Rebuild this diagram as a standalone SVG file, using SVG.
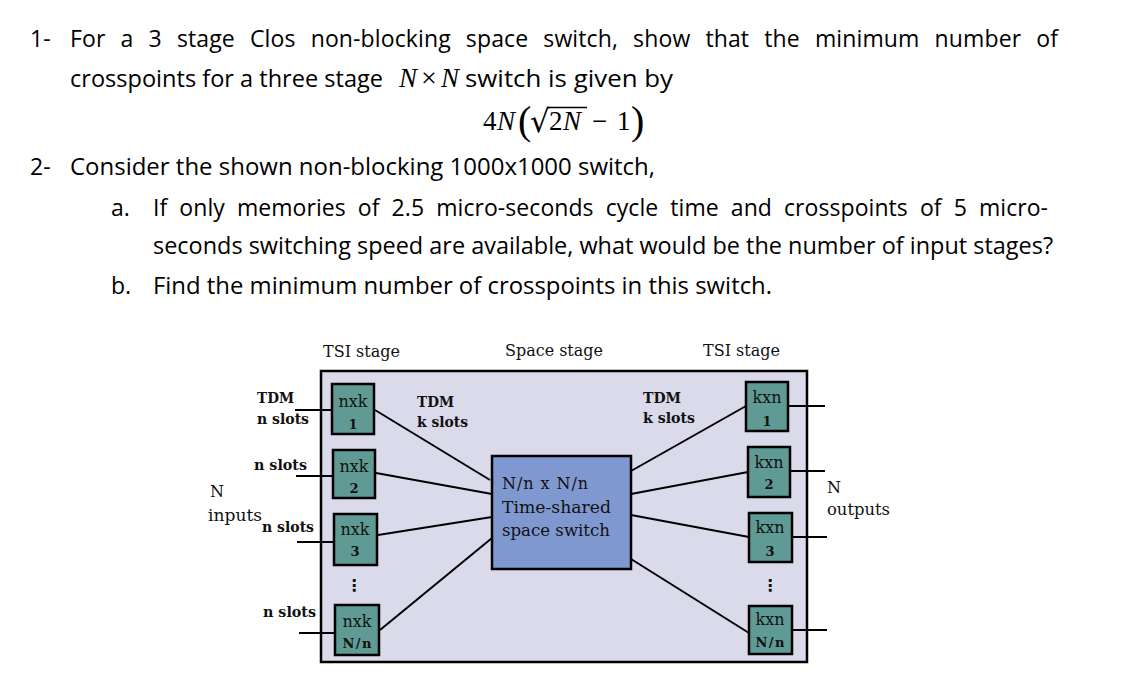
<svg xmlns="http://www.w3.org/2000/svg" width="1137" height="678" viewBox="0 0 1137 678">
<style>
.q{font-family:"Open Sans","Liberation Sans",sans-serif;font-size:23px;fill:#000}
.m{font-family:"Liberation Serif","DejaVu Serif",serif;font-size:27px;fill:#000}
.mi{font-style:italic}
.d{font-family:"DejaVu Serif","Liberation Serif",serif;font-size:16px;fill:#111}
.db{font-family:"DejaVu Serif","Liberation Serif",serif;font-size:14.5px;font-weight:bold;fill:#111}
.bl{font-family:"DejaVu Serif","Liberation Serif",serif;font-size:16px;fill:#111;text-anchor:middle}
.bn{font-family:"DejaVu Serif","Liberation Serif",serif;font-size:13px;font-weight:bold;fill:#111;text-anchor:middle}
.frame{fill:#dadaeb;stroke:#000;stroke-width:2.5}
.tsi{fill:#5f9b94;stroke:#000;stroke-width:2.5}
.sw{fill:#7f98cf;stroke:#000;stroke-width:2.5}
.c{stroke:#000;stroke-width:2;fill:none}
.dots{font-family:"DejaVu Sans",sans-serif;font-size:16px;font-weight:bold;fill:#111;text-anchor:middle}
</style>

<g id="question-text">
<text class="q" x="30" y="47">1-</text>
<text class="q" x="70" y="47" word-spacing="9" textLength="988" lengthAdjust="spacing">For a 3 stage Clos non-blocking space switch, show that the minimum number of</text>
<text class="q" x="70" y="87" textLength="313" lengthAdjust="spacingAndGlyphs">crosspoints for a three stage</text>
<text class="m" y="87" font-size="25"><tspan class="mi" x="399">N</tspan><tspan x="421" font-size="28">×</tspan><tspan class="mi" x="441">N</tspan></text>
<text class="q" x="465" y="87" textLength="208" lengthAdjust="spacingAndGlyphs">switch is given by</text>
<text class="m" y="130"><tspan x="483">4</tspan><tspan class="mi" x="497">N</tspan><tspan x="518" y="134" font-size="40">(</tspan><tspan x="530" y="132" font-size="31" font-family="DejaVu Serif">√</tspan><tspan x="549" y="130">2</tspan><tspan class="mi" x="563">N</tspan><tspan x="592">−</tspan><tspan x="617">1</tspan><tspan x="631" y="134" font-size="40">)</tspan></text>
<line x1="547" y1="107.5" x2="587" y2="107.5" stroke="#000" stroke-width="1.6"/>
<text class="q" x="30" y="175">2-</text>
<text class="q" x="70" y="175" textLength="585" lengthAdjust="spacingAndGlyphs">Consider the shown non-blocking 1000x1000 switch,</text>
<text class="q" x="111" y="216">a.</text>
<text class="q" x="153" y="216" word-spacing="6" textLength="895" lengthAdjust="spacing">If only memories of 2.5 micro-seconds cycle time and crosspoints of 5 micro-</text>
<text class="q" x="153" y="254" textLength="900" lengthAdjust="spacingAndGlyphs">seconds switching speed are available, what would be the number of input stages?</text>
<text class="q" x="111" y="294">b.</text>
<text class="q" x="153" y="294" textLength="619" lengthAdjust="spacingAndGlyphs">Find the minimum number of crosspoints in this switch.</text>
</g>

<g id="frame">
<rect class="frame" x="321" y="371" width="486" height="291"/>
</g>

<g id="connectors">
<line class="c" x1="295" y1="410" x2="332" y2="410"/>
<line class="c" x1="296" y1="476" x2="333" y2="476"/>
<line class="c" x1="297" y1="542" x2="334" y2="542"/>
<line class="c" x1="299" y1="633" x2="335" y2="633"/>
<line class="c" x1="375" y1="410" x2="490" y2="480"/>
<line class="c" x1="376" y1="473" x2="492" y2="494"/>
<line class="c" x1="378" y1="535" x2="492" y2="517"/>
<line class="c" x1="380" y1="630" x2="492" y2="538"/>
<line class="c" x1="631" y1="471" x2="746" y2="406"/>
<line class="c" x1="631" y1="494" x2="748" y2="472"/>
<line class="c" x1="631" y1="515" x2="749" y2="537"/>
<line class="c" x1="631" y1="559" x2="749" y2="633"/>
<line class="c" x1="788" y1="406" x2="825" y2="406"/>
<line class="c" x1="790" y1="471" x2="825" y2="471"/>
<line class="c" x1="792" y1="537" x2="827" y2="537"/>
<line class="c" x1="792" y1="630" x2="827" y2="630"/>
</g>

<g id="in1"><rect class="tsi" x="332" y="384" width="42" height="50"/><text class="bl" x="353" y="407">nxk</text><text class="bn" x="353" y="429">1</text></g>
<g id="in2"><rect class="tsi" x="333" y="450" width="42" height="48"/><text class="bl" x="354" y="472">nxk</text><text class="bn" x="354" y="493">2</text></g>
<g id="in3"><rect class="tsi" x="334" y="514" width="43" height="51"/><text class="bl" x="355" y="535">nxk</text><text class="bn" x="355" y="556">3</text></g>
<g id="in4"><rect class="tsi" x="335" y="605" width="44" height="50"/><text class="bl" x="357" y="627">nxk</text><text class="bn" x="357" y="648" textLength="29" lengthAdjust="spacing">N/n</text></g>

<g id="space-switch"><rect class="sw" x="492" y="456" width="139" height="113"/>
<text class="d" x="502" y="489" font-size="17" textLength="86" lengthAdjust="spacing">N/n x N/n</text>
<text class="d" x="502" y="513" font-size="17" textLength="109" lengthAdjust="spacingAndGlyphs">Time-shared</text>
<text class="d" x="502" y="536" font-size="17" textLength="108" lengthAdjust="spacingAndGlyphs">space switch</text>
</g>

<g id="out1"><rect class="tsi" x="746" y="382" width="42" height="49"/><text class="bl" x="767" y="403">kxn</text><text class="bn" x="767" y="426">1</text></g>
<g id="out2"><rect class="tsi" x="748" y="447" width="42" height="50"/><text class="bl" x="769" y="468">kxn</text><text class="bn" x="769" y="489">2</text></g>
<g id="out3"><rect class="tsi" x="749" y="513" width="43" height="49"/><text class="bl" x="770" y="533">kxn</text><text class="bn" x="770" y="556">3</text></g>
<g id="out4"><rect class="tsi" x="749" y="606" width="43" height="48"/><text class="bl" x="770" y="625">kxn</text><text class="bn" x="770" y="647" textLength="29" lengthAdjust="spacing">N/n</text></g>

<g id="labels">
<text class="d" x="323" y="357" textLength="77" lengthAdjust="spacingAndGlyphs">TSI stage</text>
<text class="d" x="505" y="356" textLength="98" lengthAdjust="spacingAndGlyphs">Space stage</text>
<text class="d" x="703" y="356" textLength="77" lengthAdjust="spacingAndGlyphs">TSI stage</text>
<text class="db" x="257" y="403" textLength="37" lengthAdjust="spacingAndGlyphs">TDM</text>
<text class="db" x="257" y="424" textLength="52" lengthAdjust="spacingAndGlyphs">n slots</text>
<text class="db" x="254" y="470" textLength="53" lengthAdjust="spacingAndGlyphs">n slots</text>
<text class="db" x="262" y="532" textLength="52" lengthAdjust="spacingAndGlyphs">n slots</text>
<text class="db" x="263" y="617" textLength="53" lengthAdjust="spacingAndGlyphs">n slots</text>
<text class="db" x="417" y="407" textLength="37" lengthAdjust="spacingAndGlyphs">TDM</text>
<text class="db" x="417" y="427" textLength="51" lengthAdjust="spacingAndGlyphs">k slots</text>
<text class="db" x="643" y="403" textLength="38" lengthAdjust="spacingAndGlyphs">TDM</text>
<text class="db" x="643" y="423" textLength="52" lengthAdjust="spacingAndGlyphs">k slots</text>
<text class="d" x="210" y="497">N</text>
<text class="d" x="208" y="521" font-size="17" textLength="54" lengthAdjust="spacingAndGlyphs">inputs</text>
<text class="d" x="827" y="493">N</text>
<text class="d" x="827" y="515" font-size="16.5" textLength="63" lengthAdjust="spacingAndGlyphs">outputs</text>
<text class="dots" x="354" y="591">⋮</text>
<text class="dots" x="770" y="591">⋮</text>
</g>
</svg>
